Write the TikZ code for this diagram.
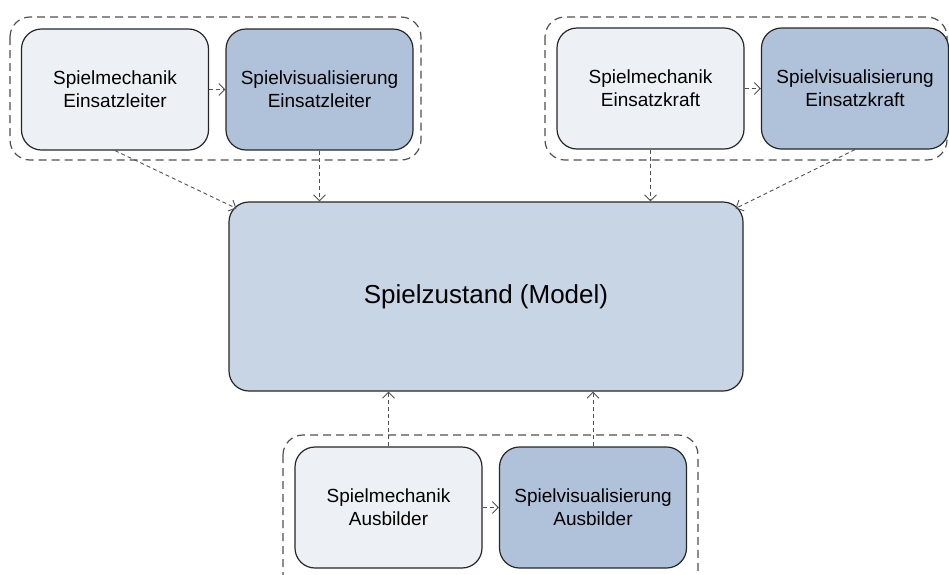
\documentclass[tikz,border=0pt]{standalone}
\usepackage{fontspec}
\setmainfont{Liberation Sans}
\usetikzlibrary{arrows.meta,calc}
\definecolor{lightbox}{HTML}{EDF0F5}
\definecolor{darkbox}{HTML}{AFC2DA}
\definecolor{centerbox}{HTML}{C8D5E5}
\definecolor{edge}{HTML}{262626}
\definecolor{dash}{HTML}{505050}
\begin{document}
\begin{tikzpicture}[x=1pt,y=-1pt,
  box/.style={draw=edge,line width=1.2pt,rounded corners=20pt,minimum width=187pt,minimum height=121pt,
    align=center,font=\fontsize{19}{23}\selectfont,inner sep=0pt},
  mech/.style={box,fill=lightbox},
  visu/.style={box,fill=darkbox},
  group/.style={draw=dash,line width=1.2pt,dash pattern=on 8pt off 5pt,rounded corners=20pt},
  dep/.style={draw=dash,line width=0.9pt,dash pattern=on 4pt off 3pt,-{Straight Barb[length=6pt,width=12pt]}}]
\useasboundingbox (0,0) rectangle (949,574);
% groups
\draw[group] (10,17) rectangle (421,160);
\draw[group] (545,17) rectangle (947,160);
\draw[group] (283,435) rectangle (698,600);
% nodes
\node[mech] (m1) at (115,89.5) {Spielmechanik\\Einsatzleiter};
\node[visu] (v1) at (319.5,89.5) {Spielvisualisierung\\Einsatzleiter};
\node[mech] (m2) at (650.5,88.5) {Spielmechanik\\Einsatzkraft};
\node[visu] (v2) at (855,88.5) {Spielvisualisierung\\Einsatzkraft};
\node[mech] (m3) at (388.5,507.5) {Spielmechanik\\Ausbilder};
\node[visu] (v3) at (593,507.5) {Spielvisualisierung\\Ausbilder};
\node[draw=edge,line width=1.2pt,rounded corners=20pt,fill=centerbox,minimum width=514pt,minimum height=189pt,
  font=\fontsize{26}{30}\selectfont] (c) at (486,296.5) {Spielzustand (Model)};
\coordinate (cl) at ($(c.north west)+(8,7)$);
\coordinate (cr) at ($(c.north east)+(-8,7)$);
% connectors
\draw[dep] (m1) -- (v1);
\draw[dep] (m2) -- (v2);
\draw[dep] (m3) -- (v3);
\draw[dep] (m1.south) -- (cl);
\draw[dep] (v1.south) -- (v1.south |- c.north);
\draw[dep] (m2.south) -- (m2.south |- c.north);
\draw[dep] (v2.south) -- (cr);
\draw[dep] (m3.north) -- (m3.north |- c.south);
\draw[dep] (v3.north) -- (v3.north |- c.south);
\end{tikzpicture}
\end{document}
